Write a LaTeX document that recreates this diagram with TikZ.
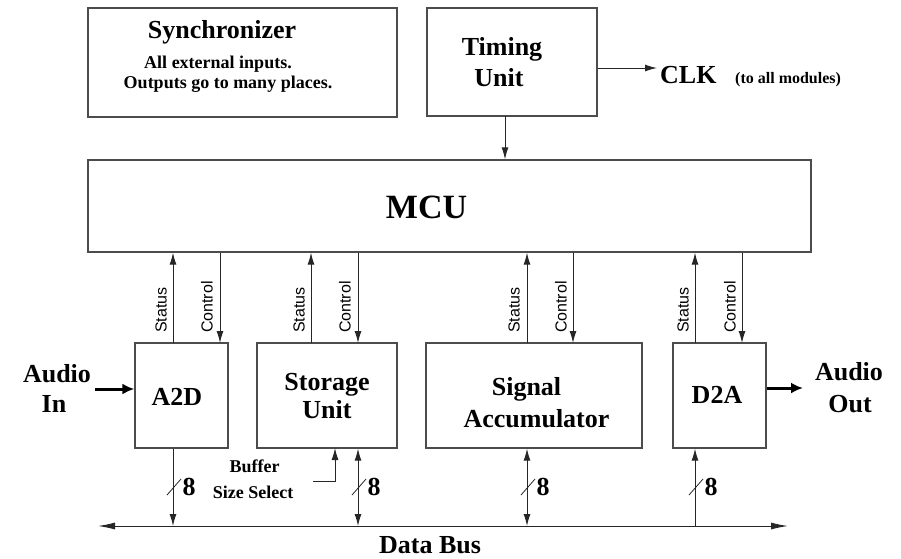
\documentclass[tikz,border=0pt]{standalone}
\usepackage{fontspec}
\setmainfont{Liberation Serif}
\newfontfamily\sigfont{Liberation Sans}
\usetikzlibrary{arrows.meta}

\tikzset{
  blk/.style={draw=black!70, line width=1.3pt, inner sep=0pt},
  lbl/.style={inner sep=0pt, anchor=base, font=\fontsize{26}{30}\selectfont\bfseries},
  big/.style={inner sep=0pt, anchor=base, font=\fontsize{34}{40}\selectfont\bfseries},
  small/.style={inner sep=0pt, anchor=base, font=\fontsize{18}{20}\selectfont\bfseries},
  sig/.style={inner sep=0pt, rotate=90, anchor=south west, font=\sigfont\fontsize{16}{18}\selectfont},
  wire/.style={draw=black!85, line width=1pt},
  tip/.style={-{Latex[length=12pt,width=7pt]}},
  tipboth/.style={{Latex[length=12pt,width=7pt]}-{Latex[length=12pt,width=7pt]}},
  bus/.style={draw=black!85, line width=1pt, {Latex[length=17pt,width=7pt]}-{Latex[length=17pt,width=7pt]}},
  audio/.style={draw=black, line width=3pt, -{Latex[length=12pt,width=11pt]}},
  slash/.style={draw=black!85, line width=0.8pt},
}

\begin{document}
\begin{tikzpicture}[x=1pt,y=1pt,yscale=-1]
\useasboundingbox (0,0) rectangle (901,558);

%Shape: Rectangle [synchronizer]
\node[blk, minimum width=309pt, minimum height=109pt] (sync) at (242.5,62.5) {};
%Shape: Rectangle [timing]
\node[blk, minimum width=170pt, minimum height=108pt] (timing) at (512,62) {};
%Shape: Rectangle [mcu]
\node[blk, minimum width=723pt, minimum height=92pt] (mcu) at (449.5,206) {};
%Shape: Rectangle [modules]
\node[blk, minimum width=93pt, minimum height=105pt] (a2d) at (181.5,395.5) {};
\node[blk, minimum width=140pt, minimum height=105pt] (storage) at (327,395.5) {};
\node[blk, minimum width=216pt, minimum height=105pt] (sigacc) at (534,395.5) {};
\node[blk, minimum width=93pt, minimum height=105pt] (d2a) at (719.5,395.5) {};

% Text Node
\node[lbl] (syncT) at (222,38) {Synchronizer};
\node[small] (syncT2) at (218,68) {All external inputs.};
\node[small] (syncT3) at (228,88) {Outputs go to many places.};
\node[lbl] (timingT) at (502,55) {Timing};
\node[lbl] (timingT2) at (499,86) {Unit};
\node[lbl, anchor=base west] (clk) at (660,83) {CLK};
\node[small, anchor=base west, font=\fontsize{16}{18}\selectfont\bfseries] (clkT) at (735,83) {(to all modules)};
\node[big] (mcuT) at (426.5,218) {MCU};
\node[lbl] (a2dT) at (177,405) {A2D};
\node[lbl] (storageT) at (327,390) {Storage};
\node[lbl] (storageT2) at (327,418) {Unit};
\node[lbl] (sigaccT) at (526.5,395) {Signal};
\node[lbl] (sigaccT2) at (536.5,427) {Accumulator};
\node[lbl] (d2aT) at (717,403) {D2A};
\node[lbl] (ainT) at (57,382) {Audio};
\node[lbl] (ainT2) at (54,412) {In};
\node[lbl] (aoutT) at (849,380) {Audio};
\node[lbl] (aoutT2) at (850,412) {Out};
\node[lbl] (dbusT) at (430,553) {Data Bus};
\node[small] (bufT) at (254.5,472) {Buffer};
\node[small] (bufT2) at (253,498) {Size Select};

%Straight Lines [clock]
\coordinate (clkIn) at (657,68);
\draw[wire,tip] (timing.east |- clkIn) -- (clkIn);
\coordinate (tmOut) at (505,116);
\draw[wire,tip] (tmOut) -- (tmOut |- mcu.north);

%Straight Lines [status / control]
\coordinate (a2dSt) at (173,343);
\coordinate (a2dCt) at (220,343);
\coordinate (storageSt) at (311,343);
\coordinate (storageCt) at (358,343);
\coordinate (sigaccSt) at (527,343);
\coordinate (sigaccCt) at (573,343);
\coordinate (d2aSt) at (695,343);
\coordinate (d2aCt) at (742,343);
\draw[wire,tip] (a2dSt) -- (a2dSt |- mcu.south);
\draw[wire,tip] (a2dCt |- mcu.south) -- (a2dCt);
\draw[wire,tip] (storageSt) -- (storageSt |- mcu.south);
\draw[wire,tip] (storageCt |- mcu.south) -- (storageCt);
\draw[wire,tip] (sigaccSt) -- (sigaccSt |- mcu.south);
\draw[wire,tip] (sigaccCt |- mcu.south) -- (sigaccCt);
\draw[wire,tip] (d2aSt) -- (d2aSt |- mcu.south);
\draw[wire,tip] (d2aCt |- mcu.south) -- (d2aCt);

% Text Node [status / control]
\node[sig] (a2dStL) at (167,333) {Status};
\node[sig] (a2dCtL) at (213,333) {Control};
\node[sig] (storageStL) at (305,333) {Status};
\node[sig] (storageCtL) at (351,333) {Control};
\node[sig] (sigaccStL) at (520,333) {Status};
\node[sig] (sigaccCtL) at (567,333) {Control};
\node[sig] (d2aStL) at (689,333) {Status};
\node[sig] (d2aCtL) at (736,333) {Control};

%Straight Lines [audio]
\coordinate (ainS) at (95,389);
\draw[audio] (ainS) -- (ainS -| a2d.west);
\coordinate (aoutE) at (803,388);
\draw[audio] (aoutE -| d2a.east) -- (aoutE);

%Straight Lines [data bus]
\coordinate (busL) at (98,526);
\coordinate (busR) at (788,526);
\draw[bus] (busL) -- (busR);
\draw[wire,tip] (a2dSt |- a2d.south) -- (a2dSt |- busL);
\draw[wire,tipboth] (storageCt |- storage.south) -- (storageCt |- busL);
\draw[wire,tipboth] (sigaccSt |- sigacc.south) -- (sigaccSt |- busL);
\draw[wire,tip] (d2aSt |- busL) -- (d2aSt |- d2a.south);

%Straight Lines [buffer size select]
\coordinate (selIn) at (313,481);
\coordinate (selX) at (335,448);
\draw[wire,tip] (selIn) -| (selX);

%Straight Lines [bus width]
\coordinate (a2dW) at (173,487);
\coordinate (storageW) at (358,487);
\coordinate (sigaccW) at (527,487);
\coordinate (d2aW) at (695,487);
\draw[slash] (a2dW) ++(-6,8) -- ++(14,-16);
\draw[slash] (storageW) ++(-6,8) -- ++(14,-16);
\draw[slash] (sigaccW) ++(-6,8) -- ++(14,-16);
\draw[slash] (d2aW) ++(-6,8) -- ++(14,-16);
\node[lbl, anchor=center] (a2d8) at (189,487) {8};
\node[lbl, anchor=center] (storage8) at (374,487) {8};
\node[lbl, anchor=center] (sigacc8) at (543,487) {8};
\node[lbl, anchor=center] (d2a8) at (711,487) {8};

\end{tikzpicture}
\end{document}
